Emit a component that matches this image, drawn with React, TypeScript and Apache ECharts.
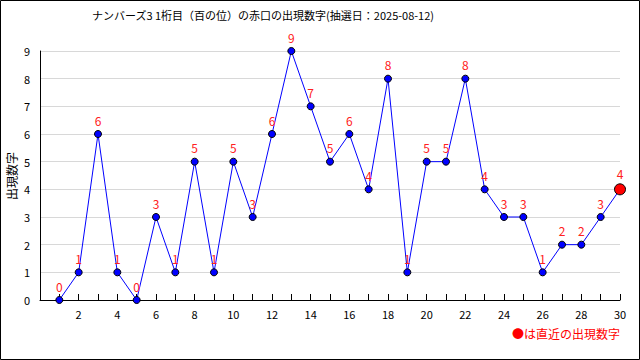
import React, { useEffect, useRef } from "react";
import * as echarts from "echarts";

const titleText = "ナンバーズ3 1桁目（百の位）の赤口の出現数字(抽選日：2025-08-12)";
const yAxisName = "出現数字";
const legendText = "●は直近の出現数字";
const xValues = [1, 2, 3, 4, 5, 6, 7, 8, 9, 10, 11, 12, 13, 14, 15, 16, 17, 18, 19, 20, 21, 22, 23, 24, 25, 26, 27, 28, 29, 30];
const digits = [0, 1, 6, 1, 0, 3, 1, 5, 1, 5, 3, 6, 9, 7, 5, 6, 4, 8, 1, 5, 5, 8, 4, 3, 3, 1, 2, 2, 3, 4];

export default function App() {
  const ref = useRef<HTMLDivElement>(null);
  useEffect(() => {
    if (!ref.current) return;
    const chart = echarts.init(ref.current, null, { renderer: "svg" });
    const font = "'Noto Sans CJK JP', 'DejaVu Sans', sans-serif";
    const last = xValues.length - 1;
    const data = xValues.map((x, i) => {
      const item: any = { value: [x, digits[i]] };
      if (i === last) {
        item.symbolSize = 11;
        item.itemStyle = { color: "#ff0000", borderColor: "#000", borderWidth: 1 };
      }
      return item;
    });
    chart.setOption({
      animation: false,
      backgroundColor: "#fff",
      title: {
        text: titleText,
        left: 87,
        top: 4,
        textStyle: { fontFamily: font, fontSize: 11, fontWeight: "normal", color: "#000" },
      },
      grid: { left: 40, right: 20, top: 51, bottom: 60, containLabel: false, outerBoundsMode: "none" },
      xAxis: {
        type: "value",
        min: 0,
        max: 30,
        interval: 1,
        axisLine: { show: true, lineStyle: { color: "#000", width: 1 } },
        axisTick: { show: true, inside: true, length: 6, lineStyle: { color: "#000" } },
        axisLabel: {
          fontFamily: font,
          fontSize: 11,
          color: "#000",
          margin: 8,
          formatter: (v: number) => (v > 0 && v % 2 === 0 ? String(v) : ""),
        },
        splitLine: { show: false },
      },
      yAxis: {
        type: "value",
        min: 0,
        max: 9,
        interval: 1,
        axisLine: { show: true, lineStyle: { color: "#000", width: 1 } },
        axisTick: { show: false },
        axisLabel: { fontFamily: font, fontSize: 11, color: "#000", margin: 10 },
        splitLine: { show: true, lineStyle: { color: "#d8d8d8", width: 1 } },
      },
      series: [
        {
          type: "line",
          data,
          symbol: "circle",
          symbolSize: 7,
          lineStyle: { color: "#0000ff", width: 1 },
          itemStyle: { color: "#0000ff", borderColor: "#000", borderWidth: 1 },
          label: {
            show: true,
            position: "top",
            distance: 4,
            color: "#ff2020",
            fontFamily: font,
            fontSize: 12,
            formatter: (p: any) => String(p.value[1]),
          },
          z: 3,
        },
      ],
      graphic: [
        {
          type: "rect",
          shape: { x: 0.5, y: 0.5, width: 639, height: 359 },
          style: { fill: "none", stroke: "#000", lineWidth: 1 },
          silent: true,
        },
        {
          type: "text",
          x: 11,
          y: 176,
          rotation: Math.PI / 2,
          style: {
            text: yAxisName,
            fill: "#000",
            font: `12px ${font}`,
            textAlign: "center",
            textVerticalAlign: "middle",
          },
        },
        {
          type: "text",
          right: 20,
          top: 327,
          style: { text: legendText, fill: "#ff0000", font: `12px ${font}` },
        },
      ],
    });
    return () => chart.dispose();
  }, []);
  return <div ref={ref} style={{ position: "fixed", left: 0, top: 0, width: 640, height: 360 }} />;
}
